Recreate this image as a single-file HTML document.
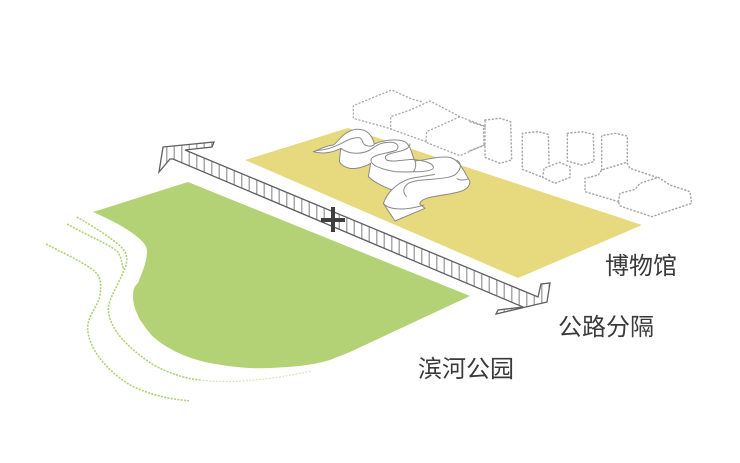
<!DOCTYPE html>
<html lang="zh">
<head>
<meta charset="utf-8">
<style>
html,body{margin:0;padding:0;background:#fff}
svg{display:block}
text{font-family:"Liberation Sans","Noto Sans CJK SC",sans-serif;font-size:24px;fill:#3a3a3a}
</style>
</head>
<body>
<svg width="740" height="463" viewBox="0 0 740 463" xmlns="http://www.w3.org/2000/svg">
<defs>
<pattern id="h" patternUnits="userSpaceOnUse" width="7.5" height="20" x="1">
<rect x="0" y="0" width="1.500" height="20" fill="#aaaaaa"/>
</pattern>
</defs>
<rect width="740" height="463" fill="#fff"/>

<!-- dotted -->
<g transform="translate(20,200) scale(.33333)" fill="none" stroke="#b0d27a" stroke-width="5" stroke-linecap="round" stroke-dasharray="2 8">
<path d="M172,52 C230,85 300,130 315,155 C325,175 320,195 310,215 C295,255 265,295 265,330 C270,390 320,440 400,495 C450,520 490,535 540,540"/>
<path d="M143,73 C190,100 260,130 290,152 C305,170 305,190 310,205"/>
<path d="M80,133 C120,155 190,185 225,215 C245,235 245,260 238,295 C225,330 203,350 203,385 C205,440 250,505 330,555 C390,585 450,598 505,602"/>
<path d="M540,540 C620,550 720,545 876,513" stroke="#d6e6b8" stroke-width="4"/>
</g>

<!-- green -->
<path d="M93,212 L188,182 L470,296 L350,352 L330,360 C310,366 290,367 270,368 C250,369 230,367 205,362 C185,357 170,350 157,340 C148,333 144,325 140,320 C135,310 133,303 133,297 C133,288 135,286 138,283 C143,270 147,262 147,250 C146,240 125,226 93,212 Z" fill="#b3d276"/>
<!-- yellow -->
<path d="M245,160 L348,128 L642,225 L607,240 L518,278 Z" fill="#e6d97e"/>

<!-- road -->
<path d="M163,147 L214,142 L212,147 L185,150 L538,297 L541,284 L550,283 L547,302 L496,314 L498,310 L523,307 L173,159 L170,159 L159,172 Z" fill="url(#h)" stroke="none"/>
<path d="M163,147 L214,142 L212,147 L185,150 L538,297 L541,284 L550,283 L547,302 L496,314 L498,310 L523,307 L173,159 L170,159 L159,172 Z" fill="none" stroke="#5f5f5f" stroke-width="1.300"/>

<!-- plus -->
<path d="M333,207 V232 M321,220 H345" stroke="#3f3f3f" stroke-width="4" fill="none"/>

<!-- serpentine -->
<g transform="translate(300,85) scale(.33333)" stroke="#8a8a8a" stroke-width="3" fill="#fff" stroke-linejoin="round">
<path d="M40,200 C60,195 70,183 100,180 C115,170 130,140 165,133 C195,130 215,145 223,177 C250,165 290,160 315,170 C335,185 335,210 345,228 C380,225 420,212 450,217 C480,225 495,265 510,290 C508,305 500,312 485,318 C450,330 400,332 380,340 C365,345 358,352 360,358 L375,370 L285,408 L250,355 C258,335 265,325 275,315 C250,305 222,292 205,275 L212,235 C190,248 165,252 150,250 C135,247 125,242 118,230 L122,190 C95,205 65,207 40,200 Z"/>
<g fill="none">
<path d="M122,190 C150,210 185,208 210,195 C225,185 240,172 265,172 C290,170 300,182 290,195 C270,205 230,205 215,220 C205,235 230,250 285,260 C320,262 350,260 365,260 C385,258 400,255 400,248 C402,238 380,226 335,223 C310,225 275,232 260,225 C250,215 260,208 275,205 C300,198 330,195 330,175"/>
<path d="M50,196 C85,195 100,185 125,175 C140,165 160,158 175,158 C190,158 185,175 195,180 C210,188 225,180 223,177"/>
<path d="M320,335 C310,325 305,310 325,295 C345,285 370,285 395,283 C425,280 460,278 470,265 C485,250 485,235 470,225"/>
<path d="M275,315 C295,295 320,282 345,278 C365,275 380,272 405,268"/>
<path d="M250,355 C265,375 315,378 373,360"/>
<path d="M345,228 C350,240 345,255 340,260"/>
<path d="M505,282 C495,285 480,288 470,280"/>
</g>
</g>

<!-- buildings left -->
<g transform="translate(300,85) scale(.33333)" fill="none" stroke="#a8a8a8" stroke-width="4" stroke-linecap="round" stroke-dasharray="3 8">
<path d="M275,132 L160,100 L160,62 L218,38 L275,15 L335,42 L365,50"/>
<path d="M378,170 L272,132 L272,95 L330,75 L390,48 L480,95 L550,122 L552,180 L480,212 L378,172 L380,140 L480,95"/>
</g>
<!-- buildings right -->
<g transform="translate(470,100) scale(.33333)" fill="none" stroke="#a8a8a8" stroke-width="4.500" stroke-linecap="round" stroke-dasharray="3 8">
<path d="M0,65 L45,80 M0,152 L45,135"/>
<path d="M45,60 L90,55 L122,65 L125,180 L90,190 L45,172 Z"/>
<path d="M237,190 L235,103 L205,95 L157,100 L157,208 L218,232"/>
<path d="M218,232 L222,205 L268,187 L300,200 L300,232 L255,250 Z"/>
<path d="M292,100 L335,95 L370,103 L372,185 L335,195 L292,183 Z"/>
<path d="M395,210 L395,107 L435,100 L472,108 L472,190"/>
<path d="M445,305 L345,275 L345,235 L385,225 L395,210 L470,187 L480,205 L560,232"/>
<path d="M445,305 L450,280 L495,268 L510,250 L565,232 L600,255 L660,275 L665,310 L545,350 L450,318 Z"/>
</g>

<text x="605" y="274">博物馆</text>
<text x="558" y="335">公路分隔</text>
<text x="418" y="377">滨河公园</text>
</svg>
</body>
</html>
